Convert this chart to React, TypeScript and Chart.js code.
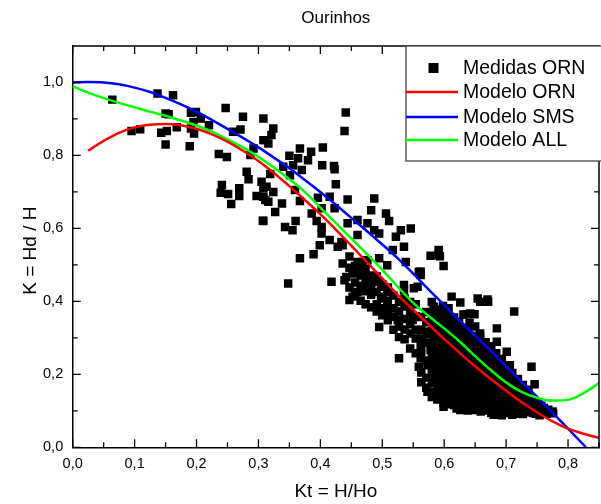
import React, { useEffect, useRef } from "react";
import { Chart, registerables } from "chart.js";

Chart.register(...registerables);

const CHART_TITLE = "Ourinhos";
const X_TITLE = "Kt = H/Ho";
const Y_TITLE = "K = Hd / H";
const X_MIN = 0;
const X_MAX = 0.85;
const Y_MIN = 0;
const Y_MAX = 1.1;
const X_TICKS = [0, 0.1, 0.2, 0.3, 0.4, 0.5, 0.6, 0.7, 0.8];
const Y_TICKS = [0, 0.2, 0.4, 0.6, 0.8, 1.0];
const X_MINOR = [0.05, 0.15, 0.25, 0.35, 0.45, 0.55, 0.65, 0.75, 0.85];
const Y_MINOR = [0.1, 0.3, 0.5, 0.7, 0.9];

const LEGEND_LABELS = ["Medidas ORN", "Modelo ORN", "Modelo SMS", "Modelo ALL"];
const COLOR_MEASURED = "#000000";
const COLOR_ORN = "#ff0000";
const COLOR_SMS = "#0000ff";
const COLOR_ALL = "#00ff00";

// Modelo ORN
const ornKt = [0.025, 0.05, 0.075, 0.1, 0.125, 0.15, 0.175, 0.2, 0.225, 0.25, 0.275, 0.3, 0.325, 0.35, 0.375, 0.4, 0.425, 0.45, 0.475, 0.5, 0.525, 0.55, 0.575, 0.6, 0.625, 0.65, 0.675, 0.7, 0.725, 0.75, 0.775, 0.8, 0.825, 0.85];
const ornK = [0.813, 0.84, 0.862, 0.877, 0.884, 0.886, 0.883, 0.873, 0.858, 0.838, 0.813, 0.785, 0.752, 0.716, 0.678, 0.639, 0.597, 0.553, 0.508, 0.463, 0.418, 0.377, 0.337, 0.297, 0.259, 0.222, 0.188, 0.155, 0.124, 0.096, 0.071, 0.051, 0.037, 0.026];

// Modelo SMS
const smsKt = [0, 0.025, 0.05, 0.075, 0.1, 0.125, 0.15, 0.175, 0.2, 0.225, 0.25, 0.275, 0.3, 0.325, 0.35, 0.375, 0.4, 0.425, 0.45, 0.475, 0.5, 0.525, 0.55, 0.575, 0.6, 0.625, 0.65, 0.675, 0.7, 0.725, 0.75, 0.775, 0.8, 0.829];
const smsK = [1.0, 1.001, 1.0, 0.995, 0.986, 0.974, 0.958, 0.94, 0.92, 0.897, 0.873, 0.848, 0.822, 0.794, 0.765, 0.733, 0.7, 0.665, 0.629, 0.593, 0.556, 0.518, 0.476, 0.432, 0.39, 0.348, 0.306, 0.265, 0.222, 0.18, 0.138, 0.095, 0.051, 0.0];

// Modelo ALL
const allKt = [0, 0.025, 0.05, 0.075, 0.1, 0.125, 0.15, 0.175, 0.2, 0.225, 0.25, 0.275, 0.3, 0.325, 0.35, 0.375, 0.4, 0.425, 0.45, 0.475, 0.5, 0.525, 0.55, 0.575, 0.6, 0.625, 0.65, 0.675, 0.7, 0.725, 0.75, 0.775, 0.8, 0.825, 0.85];
const allK = [0.99, 0.972, 0.957, 0.944, 0.932, 0.92, 0.909, 0.896, 0.882, 0.865, 0.844, 0.822, 0.796, 0.767, 0.735, 0.7, 0.657, 0.615, 0.573, 0.53, 0.487, 0.44, 0.396, 0.36, 0.326, 0.29, 0.25, 0.212, 0.178, 0.152, 0.136, 0.128, 0.13, 0.148, 0.176];

// Medidas ORN (Kt, K)
const measuredUpper: [number, number][] = [
  [0.064, 0.953], [0.137, 0.97], [0.162, 0.965], [0.095, 0.867], [0.109, 0.872], [0.15, 0.915], [0.155, 0.913],
  [0.143, 0.862], [0.152, 0.867], [0.168, 0.877], [0.15, 0.83], [0.191, 0.917], [0.199, 0.919], [0.195, 0.892],
  [0.207, 0.901], [0.191, 0.874], [0.196, 0.86], [0.22, 0.883], [0.189, 0.825], [0.247, 0.93], [0.275, 0.906],
  [0.259, 0.865], [0.271, 0.871], [0.308, 0.901], [0.308, 0.842], [0.292, 0.819], [0.287, 0.801], [0.236, 0.804],
  [0.249, 0.796], [0.281, 0.755], [0.284, 0.735], [0.241, 0.719], [0.239, 0.698], [0.251, 0.694], [0.269, 0.71],
  [0.269, 0.689], [0.256, 0.667], [0.308, 0.71], [0.297, 0.689], [0.311, 0.678], [0.307, 0.621],
];

const measuredMiddle: [number, number][] = [
  [0.441, 0.918], [0.439, 0.867], [0.324, 0.874], [0.321, 0.856], [0.311, 0.842], [0.316, 0.833], [0.367, 0.819],
  [0.404, 0.822], [0.385, 0.81], [0.35, 0.799], [0.364, 0.792], [0.38, 0.787], [0.356, 0.773], [0.34, 0.769],
  [0.37, 0.76], [0.403, 0.773], [0.422, 0.771], [0.423, 0.762], [0.351, 0.746], [0.425, 0.721], [0.319, 0.749],
  [0.305, 0.728], [0.313, 0.714], [0.324, 0.7], [0.359, 0.705], [0.308, 0.687], [0.316, 0.673], [0.338, 0.668],
  [0.367, 0.675], [0.396, 0.684], [0.415, 0.687], [0.444, 0.679], [0.487, 0.682], [0.327, 0.645], [0.308, 0.62],
  [0.386, 0.641], [0.402, 0.655], [0.423, 0.655], [0.482, 0.65], [0.394, 0.62], [0.36, 0.62], [0.343, 0.604],
  [0.355, 0.595], [0.402, 0.604], [0.444, 0.614], [0.46, 0.623], [0.476, 0.614], [0.506, 0.641], [0.511, 0.62],
  [0.546, 0.6], [0.53, 0.595], [0.402, 0.586], [0.415, 0.568], [0.434, 0.563], [0.399, 0.554], [0.428, 0.55],
  [0.46, 0.582], [0.487, 0.595], [0.495, 0.586], [0.522, 0.577], [0.535, 0.55], [0.517, 0.541], [0.367, 0.518],
  [0.389, 0.529], [0.436, 0.504], [0.46, 0.508], [0.476, 0.513], [0.495, 0.518], [0.508, 0.499], [0.538, 0.508],
  [0.578, 0.525], [0.442, 0.467], [0.455, 0.477], [0.479, 0.467], [0.484, 0.454], [0.348, 0.449], [0.418, 0.454],
  [0.498, 0.44], [0.535, 0.445], [0.557, 0.44], [0.562, 0.481], [0.46, 0.426], [0.436, 0.554], [0.591, 0.527],
  [0.468, 0.508], [0.452, 0.477], [0.439, 0.458], [0.476, 0.467], [0.493, 0.454], [0.479, 0.44], [0.508, 0.426],
  [0.452, 0.413], [0.447, 0.404], [0.498, 0.408], [0.535, 0.431], [0.551, 0.436], [0.508, 0.385], [0.525, 0.349],
  [0.495, 0.33], [0.549, 0.349], [0.583, 0.385], [0.591, 0.541], [0.593, 0.524], [0.599, 0.497], [0.559, 0.481],
  [0.562, 0.472], [0.612, 0.413], [0.626, 0.397], [0.654, 0.408], [0.67, 0.405], [0.637, 0.365], [0.649, 0.365],
  [0.713, 0.372], [0.527, 0.244], [0.559, 0.221], [0.562, 0.244],
];

const measuredBand: [number, number][] = [
  [0.447, 0.438], [0.447, 0.492], [0.447, 0.523],
  [0.456, 0.418], [0.456, 0.452], [0.456, 0.497],
  [0.465, 0.402], [0.465, 0.443], [0.465, 0.471], [0.465, 0.491],
  [0.473, 0.392], [0.473, 0.428], [0.473, 0.452], [0.473, 0.488],
  [0.482, 0.384], [0.482, 0.418], [0.482, 0.432], [0.482, 0.471],
  [0.491, 0.372], [0.491, 0.392], [0.491, 0.426], [0.491, 0.468],
  [0.5, 0.362], [0.5, 0.381], [0.5, 0.413], [0.5, 0.447],
  [0.509, 0.348], [0.509, 0.368], [0.509, 0.402], [0.509, 0.438],
  [0.518, 0.322], [0.518, 0.358], [0.518, 0.381], [0.518, 0.416],
  [0.527, 0.302], [0.527, 0.331], [0.527, 0.372], [0.527, 0.398],
  [0.536, 0.296], [0.536, 0.323], [0.536, 0.352], [0.536, 0.386], [0.536, 0.408],
  [0.545, 0.271], [0.545, 0.312], [0.545, 0.337], [0.545, 0.371], [0.545, 0.398],
  [0.554, 0.258], [0.554, 0.298], [0.554, 0.322], [0.554, 0.359], [0.554, 0.392],
];

const measuredDense: [number, number][] = [
  [0.631, 0.364], [0.642, 0.367], [0.61, 0.34], [0.583, 0.33], [0.575, 0.317], [0.589, 0.294], [0.599, 0.303],
  [0.562, 0.28], [0.578, 0.267], [0.591, 0.271], [0.573, 0.225], [0.589, 0.23], [0.613, 0.239], [0.631, 0.235],
  [0.589, 0.203], [0.605, 0.207], [0.618, 0.207], [0.594, 0.175], [0.573, 0.152], [0.589, 0.148], [0.607, 0.152],
  [0.629, 0.152], [0.599, 0.121], [0.613, 0.13], [0.626, 0.102], [0.642, 0.157], [0.647, 0.221], [0.685, 0.326],
  [0.685, 0.289], [0.701, 0.262], [0.658, 0.312], [0.741, 0.221], [0.746, 0.173], [0.706, 0.225], [0.776, 0.093],
  [0.629, 0.107], [0.599, 0.111], [0.583, 0.143], [0.605, 0.139], [0.631, 0.157], [0.698, 0.093], [0.65, 0.102],
  [0.671, 0.107], [0.733, 0.098], [0.754, 0.088], [0.658, 0.399], [0.671, 0.399], [0.658, 0.303], [0.775, 0.098],
  [0.563, 0.178], [0.563, 0.205], [0.563, 0.262], [0.563, 0.298], [0.563, 0.322], [0.563, 0.357],
  [0.571, 0.163], [0.571, 0.191], [0.571, 0.238], [0.571, 0.286], [0.571, 0.309], [0.571, 0.343], [0.571, 0.371],
  [0.58, 0.138], [0.58, 0.176], [0.58, 0.213], [0.58, 0.249], [0.58, 0.282], [0.58, 0.318], [0.58, 0.352], [0.58, 0.398],
  [0.589, 0.131], [0.589, 0.162], [0.589, 0.188], [0.589, 0.259], [0.589, 0.317], [0.589, 0.338], [0.589, 0.361], [0.589, 0.378],
  [0.598, 0.142], [0.598, 0.166], [0.598, 0.194], [0.598, 0.221], [0.598, 0.252], [0.598, 0.281], [0.598, 0.328], [0.598, 0.352], [0.598, 0.387],
  [0.607, 0.118], [0.607, 0.171], [0.607, 0.189], [0.607, 0.226], [0.607, 0.262], [0.607, 0.287], [0.607, 0.318], [0.607, 0.361], [0.607, 0.381],
  [0.616, 0.116], [0.616, 0.146], [0.616, 0.178], [0.616, 0.198], [0.616, 0.253], [0.616, 0.277], [0.616, 0.302], [0.616, 0.331], [0.616, 0.356],
  [0.624, 0.121], [0.624, 0.137], [0.624, 0.169], [0.624, 0.187], [0.624, 0.218], [0.624, 0.266], [0.624, 0.291], [0.624, 0.318], [0.624, 0.343],
  [0.633, 0.109], [0.633, 0.128], [0.633, 0.178], [0.633, 0.199], [0.633, 0.212], [0.633, 0.252], [0.633, 0.279], [0.633, 0.303], [0.633, 0.327],
  [0.641, 0.118], [0.641, 0.139], [0.641, 0.171], [0.641, 0.191], [0.641, 0.236], [0.641, 0.262], [0.641, 0.288], [0.641, 0.341],
  [0.65, 0.113], [0.65, 0.131], [0.65, 0.162], [0.65, 0.188], [0.65, 0.208], [0.65, 0.244], [0.65, 0.268], [0.65, 0.293], [0.65, 0.331],
  [0.659, 0.098], [0.659, 0.122], [0.659, 0.147], [0.659, 0.173], [0.659, 0.197], [0.659, 0.228], [0.659, 0.256], [0.659, 0.281],
  [0.667, 0.112], [0.667, 0.138], [0.667, 0.159], [0.667, 0.183], [0.667, 0.212], [0.667, 0.239], [0.667, 0.268], [0.667, 0.288],
  [0.676, 0.094], [0.676, 0.121], [0.676, 0.148], [0.676, 0.171], [0.676, 0.198], [0.676, 0.226], [0.676, 0.251], [0.676, 0.277],
  [0.684, 0.101], [0.684, 0.128], [0.684, 0.154], [0.684, 0.181], [0.684, 0.207], [0.684, 0.232], [0.684, 0.258],
  [0.693, 0.088], [0.693, 0.112], [0.693, 0.138], [0.693, 0.166], [0.693, 0.191], [0.693, 0.216], [0.693, 0.242],
  [0.701, 0.096], [0.701, 0.121], [0.701, 0.147], [0.701, 0.172], [0.701, 0.198], [0.701, 0.223],
  [0.71, 0.089], [0.71, 0.108], [0.71, 0.132], [0.71, 0.158], [0.71, 0.181], [0.71, 0.204],
  [0.719, 0.097], [0.719, 0.117], [0.719, 0.141], [0.719, 0.163], [0.719, 0.187],
  [0.727, 0.091], [0.727, 0.109], [0.727, 0.128], [0.727, 0.152], [0.727, 0.171],
  [0.736, 0.104], [0.736, 0.121], [0.736, 0.139], [0.736, 0.158],
  [0.744, 0.094], [0.744, 0.112], [0.744, 0.131],
  [0.752, 0.102], [0.752, 0.119],
  [0.761, 0.097], [0.761, 0.108],
  [0.768, 0.103],
];

const measuredCore: [number, number][] = [
  [0.584, 0.152], [0.584, 0.198], [0.584, 0.231], [0.584, 0.266], [0.584, 0.301], [0.584, 0.337], [0.584, 0.372],
  [0.593, 0.139], [0.593, 0.177], [0.593, 0.208], [0.593, 0.243], [0.593, 0.279], [0.593, 0.312], [0.593, 0.347],
  [0.602, 0.131], [0.602, 0.157], [0.602, 0.181], [0.602, 0.209], [0.602, 0.238], [0.602, 0.268], [0.602, 0.296], [0.602, 0.341], [0.602, 0.371],
  [0.611, 0.129], [0.611, 0.158], [0.611, 0.201], [0.611, 0.214], [0.611, 0.244], [0.611, 0.273], [0.611, 0.309], [0.611, 0.347],
  [0.62, 0.106], [0.62, 0.129], [0.62, 0.159], [0.62, 0.189], [0.62, 0.209], [0.62, 0.236], [0.62, 0.261], [0.62, 0.286], [0.62, 0.311], [0.62, 0.337],
  [0.629, 0.118], [0.629, 0.144], [0.629, 0.163], [0.629, 0.194], [0.629, 0.226], [0.629, 0.243], [0.629, 0.271], [0.629, 0.296], [0.629, 0.322],
  [0.638, 0.101], [0.638, 0.124], [0.638, 0.152], [0.638, 0.183], [0.638, 0.206], [0.638, 0.226], [0.638, 0.249], [0.638, 0.273], [0.638, 0.298], [0.638, 0.318],
  [0.646, 0.107], [0.646, 0.126], [0.646, 0.148], [0.646, 0.176], [0.646, 0.199], [0.646, 0.228], [0.646, 0.256], [0.646, 0.281], [0.646, 0.306],
  [0.655, 0.108], [0.655, 0.139], [0.655, 0.157], [0.655, 0.181], [0.655, 0.214], [0.655, 0.238], [0.655, 0.262], [0.655, 0.288],
  [0.663, 0.104], [0.663, 0.129], [0.663, 0.152], [0.663, 0.176], [0.663, 0.203], [0.663, 0.226], [0.663, 0.248], [0.663, 0.276],
  [0.672, 0.101], [0.672, 0.131], [0.672, 0.158], [0.672, 0.188], [0.672, 0.209], [0.672, 0.236], [0.672, 0.259],
  [0.68, 0.089], [0.68, 0.112], [0.68, 0.138], [0.68, 0.164], [0.68, 0.191], [0.68, 0.216], [0.68, 0.243],
  [0.689, 0.096], [0.689, 0.121], [0.689, 0.146], [0.689, 0.172], [0.689, 0.197], [0.689, 0.224],
  [0.697, 0.101], [0.697, 0.126], [0.697, 0.152], [0.697, 0.179], [0.697, 0.206],
  [0.706, 0.098], [0.706, 0.116], [0.706, 0.141], [0.706, 0.167], [0.706, 0.191],
  [0.714, 0.092], [0.714, 0.104], [0.714, 0.127], [0.714, 0.149], [0.714, 0.172],
  [0.723, 0.099], [0.723, 0.121], [0.723, 0.143], [0.723, 0.162],
  [0.731, 0.096], [0.731, 0.117], [0.731, 0.134], [0.731, 0.149],
  [0.74, 0.098], [0.74, 0.118], [0.74, 0.133],
  [0.748, 0.092], [0.748, 0.108], [0.748, 0.122],
  [0.757, 0.094], [0.757, 0.114],
  [0.765, 0.092],
];

const FONT = "'Liberation Sans', Arial, Helvetica, sans-serif";

const toPoints = (xs: number[], ys: number[]) => xs.map((x, i) => ({ x, y: ys[i] }));
const pairsToPoints = (arr: [number, number][]) => arr.map(([x, y]) => ({ x, y }));
const fmt = (v: number) => v.toFixed(1).replace(".", ",");

const framePlugin = {
  id: "originFrame",
  afterDraw(chart: any) {
    const { ctx, chartArea } = chart;
    const xs = chart.scales.x;
    const ys = chart.scales.y;
    const { left, right, top, bottom } = chartArea;
    ctx.save();
    ctx.strokeStyle = "#000";
    ctx.lineWidth = 1.5;
    ctx.beginPath();
    ctx.moveTo(left, top);
    ctx.lineTo(right, top);
    ctx.lineTo(right, bottom);
    ctx.stroke();
    ctx.lineWidth = 1.3;
    const major = 8;
    const minor = 5;
    ctx.beginPath();
    X_TICKS.forEach((v) => {
      const p = xs.getPixelForValue(v);
      ctx.moveTo(p, bottom);
      ctx.lineTo(p, bottom - major);
      ctx.moveTo(p, top);
      ctx.lineTo(p, top + major);
    });
    X_MINOR.forEach((v) => {
      const p = xs.getPixelForValue(v);
      ctx.moveTo(p, bottom);
      ctx.lineTo(p, bottom - minor);
      ctx.moveTo(p, top);
      ctx.lineTo(p, top + minor);
    });
    Y_TICKS.forEach((v) => {
      const p = ys.getPixelForValue(v);
      ctx.moveTo(left, p);
      ctx.lineTo(left + major, p);
      ctx.moveTo(right, p);
      ctx.lineTo(right - major, p);
    });
    Y_MINOR.forEach((v) => {
      const p = ys.getPixelForValue(v);
      ctx.moveTo(left, p);
      ctx.lineTo(left + minor, p);
      ctx.moveTo(right, p);
      ctx.lineTo(right - minor, p);
    });
    ctx.stroke();

    ctx.fillStyle = "#000";
    ctx.textAlign = "center";
    ctx.textBaseline = "middle";
    ctx.font = `17px ${FONT}`;
    ctx.fillText(CHART_TITLE, (left + right) / 2, 18);
    ctx.font = `19px ${FONT}`;
    ctx.fillText(X_TITLE, (left + right) / 2, 492);
    ctx.save();
    ctx.translate(31, (top + bottom) / 2 + 4);
    ctx.rotate(-Math.PI / 2);
    ctx.fillText(Y_TITLE, 0, 0);
    ctx.restore();

    const lx = 406;
    const ly = top;
    const lw = right - lx + 4;
    const lh = 115;
    ctx.fillStyle = "#fff";
    ctx.fillRect(lx, ly, lw, lh);
    ctx.strokeStyle = "#444";
    ctx.lineWidth = 1.3;
    ctx.strokeRect(lx, ly, lw, lh);
    const rows = [68, 92, 117, 140];
    const colors = [COLOR_MEASURED, COLOR_ORN, COLOR_SMS, COLOR_ALL];
    ctx.fillStyle = COLOR_MEASURED;
    ctx.fillRect(428.5, rows[0] - 5, 10, 10);
    ctx.lineWidth = 2.5;
    for (let i = 1; i < 4; i++) {
      ctx.strokeStyle = colors[i];
      ctx.beginPath();
      ctx.moveTo(lx, rows[i]);
      ctx.lineTo(458, rows[i]);
      ctx.stroke();
    }
    ctx.fillStyle = "#000";
    ctx.textAlign = "left";
    ctx.font = `19.5px ${FONT}`;
    LEGEND_LABELS.forEach((t, i) => ctx.fillText(t, 463, rows[i] + 1));
    ctx.restore();
  },
};

export default function App() {
  const ref = useRef<HTMLCanvasElement | null>(null);
  useEffect(() => {
    const canvas = ref.current;
    if (!canvas) return;
    const measured = [
      ...pairsToPoints(measuredUpper),
      ...pairsToPoints(measuredMiddle),
      ...pairsToPoints(measuredBand),
      ...pairsToPoints(measuredDense),
      ...pairsToPoints(measuredCore),
    ];
    const lineDs = (label: string, xs: number[], ys: number[], color: string) => ({
      label,
      data: toPoints(xs, ys),
      showLine: true,
      borderColor: color,
      backgroundColor: color,
      borderWidth: 2.5,
      pointRadius: 0,
      cubicInterpolationMode: "monotone" as const,
      fill: false,
    });
    const chart = new Chart(canvas, {
      type: "scatter",
      data: {
        datasets: [
          lineDs(LEGEND_LABELS[1], ornKt, ornK, COLOR_ORN),
          lineDs(LEGEND_LABELS[3], allKt, allK, COLOR_ALL),
          lineDs(LEGEND_LABELS[2], smsKt, smsK, COLOR_SMS),
          {
            label: LEGEND_LABELS[0],
            data: measured,
            showLine: false,
            pointStyle: "rect",
            pointRadius: 6,
            backgroundColor: COLOR_MEASURED,
            borderWidth: 0,
          },
        ],
      },
      options: {
        animation: false,
        responsive: false,
        devicePixelRatio: 1,
        events: [],
        layout: { padding: { left: 0, top: 46, right: 1.4, bottom: 0 } },
        plugins: {
          legend: { display: false },
          title: { display: false },
          tooltip: { enabled: false },
        },
        scales: {
          x: {
            type: "linear",
            min: X_MIN,
            max: X_MAX,
            grid: { display: false, drawTicks: false },
            border: { display: true, color: "#000", width: 1.5 },
            afterBuildTicks: (scale: any) => {
              scale.ticks = X_TICKS.map((v) => ({ value: v }));
            },
            afterFit: (scale: any) => {
              scale.height = 56.7;
            },
            ticks: {
              color: "#000",
              padding: 8,
              maxRotation: 0,
              autoSkip: false,
              font: { family: FONT, size: 14.5 },
              callback: (v: any) => fmt(Number(v)),
            },
          },
          y: {
            type: "linear",
            min: Y_MIN,
            max: Y_MAX,
            grid: { display: false, drawTicks: false },
            border: { display: true, color: "#000", width: 1.5 },
            afterBuildTicks: (scale: any) => {
              scale.ticks = Y_TICKS.map((v) => ({ value: v }));
            },
            afterFit: (scale: any) => {
              scale.width = 72.7;
            },
            ticks: {
              color: "#000",
              padding: 9.5,
              autoSkip: false,
              font: { family: FONT, size: 14.5 },
              callback: (v: any) => fmt(Number(v)),
            },
          },
        },
      },
      plugins: [framePlugin],
    });
    return () => chart.destroy();
  }, []);
  return (
    <div
      style={{
        position: "fixed",
        left: 0,
        top: 0,
        width: 601,
        height: 504,
        overflow: "hidden",
        background: "#fff",
      }}
    >
      <canvas ref={ref} width={605} height={504} style={{ width: 605, height: 504, display: "block" }} />
    </div>
  );
}
